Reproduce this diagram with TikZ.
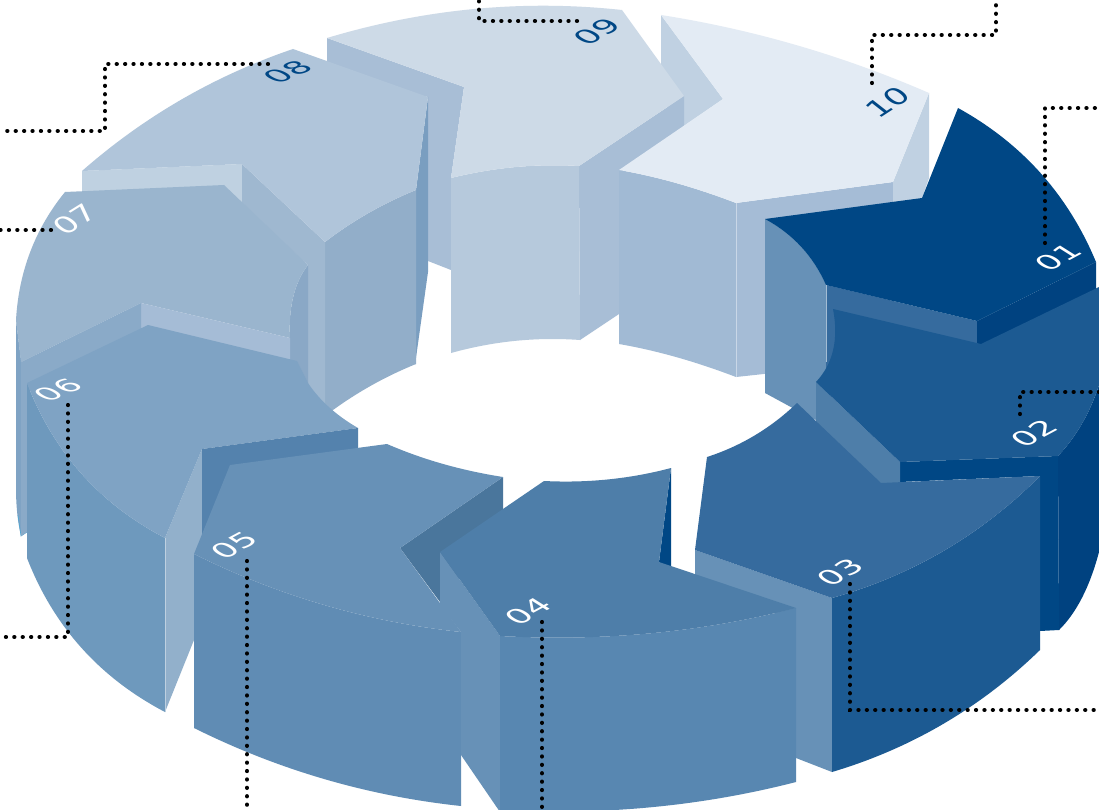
\documentclass[tikz,border=0pt]{standalone}
\usepackage{fontspec}
\setmainfont{DejaVu Sans}
\definecolor{cA}{HTML}{CDDAE7}\definecolor{cB}{HTML}{A8BED6}\definecolor{cC}{HTML}{B6C9DC}
\definecolor{dA}{HTML}{E3EBF4}\definecolor{dB}{HTML}{C0D1E2}\definecolor{dC}{HTML}{A1BAD4}\definecolor{dD}{HTML}{A5BCD6}
\definecolor{eA}{HTML}{004785}\definecolor{eB}{HTML}{004280}\definecolor{eC}{HTML}{6791B7}\definecolor{eD}{HTML}{366B9E}
\definecolor{fA}{HTML}{1C5A92}\definecolor{fB}{HTML}{4E7EA9}
\definecolor{gA}{HTML}{5887B1}\definecolor{hA}{HTML}{608CB4}\definecolor{hB}{HTML}{4A769C}\definecolor{hC}{HTML}{5482AD}
\definecolor{iA}{HTML}{7FA3C4}\definecolor{iB}{HTML}{6E99BD}\definecolor{iC}{HTML}{92B0CB}\definecolor{iD}{HTML}{8AAAC8}
\definecolor{jA}{HTML}{9AB5CE}\definecolor{jB}{HTML}{8AA8C6}
\definecolor{kA}{HTML}{B0C5DA}\definecolor{kB}{HTML}{92AEC9}\definecolor{kC}{HTML}{7A9EC0}\definecolor{kD}{HTML}{9FB8D0}\definecolor{kE}{HTML}{BFD1E1}
\tikzset{
  leader/.style={black,line width=4.2pt,line cap=round,dash pattern=on 0.1pt off 8.3pt},
  numlabel/.style={transform shape,inner sep=0pt,font=\fontsize{26}{26}\selectfont},
  edgeline/.style={line width=.7pt}
}
\newcommand{\lab}[9]{\begin{scope}[shift={(#2,#3)},cm={#4,#5,#6,#7,(0,0)}]\node[numlabel,text=#8] (#1) at (0,0) {#9};\end{scope}}
% smooth arc from the current point (x0,y0), through the bulge given by (cx,cy), to (x1,y1)
\newcommand{\qc}[6]{.. controls ({#1+(#5-#1)/3+#3-(#1+#5)/2},{#2+(#6-#2)/3+#4-(#2+#6)/2}) and ({#5-(#5-#1)/3+#3-(#1+#5)/2},{#6-(#6-#2)/3+#4-(#2+#6)/2}) .. (#5,#6)}
\begin{document}
\begin{tikzpicture}[x=1pt,y=-1pt]
\useasboundingbox (0,0) rectangle (1099,810);
\clip (0,0) rectangle (1099,810);
\fill[white] (0,0) rectangle (1099,810);
% 10 back notch
\fill[dB] (661,15) -- (723,99) -- (684,126) -- (661,100) -- cycle;
% 09
\fill[cB] (327,38) -- (464,87) -- (451,178) -- (451,270) -- (428,261) -- (428,97) -- (327,75) -- cycle;
\fill[cB] (579,166) -- (684,96) -- (684,130) -- (619,175) -- (619,314) -- (580,340) -- cycle;
\fill[cC] (451,178) \qc{451}{178}{515}{165.5}{579}{166} -- (580,340) \qc{580}{340}{515}{339}{451}{353} -- cycle;
\fill[cA] (327,38) \qc{327}{38}{474}{4}{622}{10} -- (684,96) -- (579,166) \qc{579}{166}{515}{165.5}{451}{178} -- (464,87) -- cycle;
% 10
\fill[dD] (736,203) -- (893,182) -- (893,360) -- (736,377) -- cycle;
\fill[dC] (619,170) \qc{619}{170}{676}{182}{736}{203} -- (736,377) \qc{736}{377}{676}{356}{619}{344} -- cycle;
\fill[dB] (929,93) -- (893,182) -- (893,210) -- (922,198) -- (929,178) -- cycle;
\fill[dA] (661,15) \qc{661}{15}{798}{42.5}{929}{93} -- (893,182) -- (736,203) \qc{736}{203}{676}{182}{619}{170} -- (723,99) -- cycle;
\draw[edgeline,dD!60!white] (736,203) -- (736,377);
% 01
\fill[eC] (765,219) \qc{765}{219}{803}{245}{826}{285} -- (826,425) -- (800,412) -- (765,393) -- cycle;
\fill[eD] (826,285) -- (977,321) -- (982,346) -- (842,312) -- (842,380) -- (826,400) -- cycle;
\fill[eB] (977,321) -- (1096,262) -- (1096,292) -- (982,346) -- (977,344) -- cycle;
\fill[eA] (958,108) \qc{958}{108}{1045}{169}{1096}{262} -- (977,321) -- (826,285) \qc{826}{285}{803}{245}{765}{219} -- (922,198) -- cycle;
\draw[edgeline,eC!60!white] (826,285) -- (826,362);
% 02
\fill[eB] (1058,456) \qc{1058}{456}{1083}{425}{1099}{385} -- (1099,552) \qc{1099}{552}{1083}{600}{1059}{630} -- cycle;
\fill[eA] (900,462) -- (1058,456) -- (1059,630) -- (1040,631) -- (1040,476) -- (900,482) -- cycle;
\fill[fB] (816,382) -- (900,462) -- (900,484) -- (881,484) -- (816,425) -- cycle;
\fill[fA] (833,309) -- (981,344) -- (1099,287) -- (1099,385) \qc{1099}{385}{1083}{425}{1058}{456} -- (900,462) -- (816,382) \qc{816}{382}{836}{351.5}{833}{309} -- cycle;
% 03
\fill[eC] (695,550) -- (832,598) -- (832,772) -- (796,758) -- (796,620) -- (695,582) -- cycle;
\fill[fA] (832,598) \qc{832}{598}{947}{555}{1040}{476} -- (1040,650) \qc{1040}{650}{946}{728}{832}{772} -- cycle;
\fill[eD] (707,457) \qc{707}{457}{756}{437}{797}{403} -- (881,483) -- (1040,476) \qc{1040}{476}{947}{555}{832}{598} -- (695,550) -- cycle;
% 08
\fill[kE] (82,171) -- (242,164) -- (242,205) -- (82,195) -- cycle;
\fill[kC] (428,97) -- (416,190) -- (415,365) -- (428,272) -- cycle;
\fill[kB] (325,242) \qc{325}{242}{368}{212}{416}{190} -- (416,364) \qc{416}{364}{368}{386}{325}{416} -- cycle;
\fill[kD] (242,164) -- (325,242) -- (325,416) -- (308,385) -- (308,265) -- (242,205) -- cycle;
\fill[kA] (293,49) -- (428,97) -- (416,190) \qc{416}{190}{368}{212}{325}{242} -- (242,164) -- (82,171) \qc{82}{171}{179.5}{96}{293}{49} -- cycle;
% 06/07 left strip
\fill[iA] (16,320) -- (16,490) \qc{16}{490}{17}{515}{21}{536} -- (27,532) -- (27,380) -- (21,360) -- cycle;
\draw[line width=.6pt,cyan!50!iB] (18,515) -- (21,536) -- (27,532);
% 07
\fill[jB] (308,265) .. controls (296,280) and (288,305) .. (290,338) -- (290,362) -- (298,364) -- (308,385) -- cycle;
\fill[jA] (65,192) -- (224,185) -- (308,265) .. controls (296,280) and (288,305) .. (290,338) -- (141,303) -- (21,362) -- (16,320) \qc{16}{320}{27}{250}{65}{192} -- cycle;
% 06
\fill[dD] (141,303) -- (290,338) -- (290,360) -- (141,330) -- cycle;
\fill[iD] (21,362) -- (141,303) -- (141,335) -- (27,392) -- (27,532) -- (21,536) -- cycle;
\fill[iB] (27,383) \qc{27}{383}{76.5}{478}{165}{538} -- (165,712) \qc{165}{712}{76.5}{652}{27}{558} -- cycle;
\fill[iC] (165,538) -- (202,449) -- (202,538) -- (194,555) -- (194,640) -- (165,712) -- cycle;
\fill[iA] (27,383) -- (148,325) -- (297,361) -- (308,383) \qc{308}{383}{328}{408}{358}{428} -- (202,449) -- (165,538) \qc{165}{538}{76.5}{478}{27}{383} -- cycle;
\draw[edgeline,iC!60!white] (165,538) -- (165,712);
% 05
\fill[hC] (202,449) -- (358,428) -- (358,450) -- (230,467) -- (202,537) -- cycle;
\fill[hA] (194,554) \qc{194}{554}{323}{609}{461}{632} -- (461,806) \qc{461}{806}{323}{783}{194}{728} -- cycle;
\fill[hB] (503,477) -- (503,520) -- (440,602) -- (400,548) -- cycle;
\fill[eC] (230,465) -- (387,444) \qc{387}{444}{442}{465}{503}{477} -- (400,548) -- (461,632) \qc{461}{632}{323}{609}{194}{554} -- cycle;
% 04
\fill[eA] (671,468) -- (671,572) -- (659,562) -- cycle;
\fill[eC] (440,552) -- (500,636) -- (500,812) -- (461,755) -- (461,632) -- (440,605) -- cycle;
\fill[gA] (500,636) \qc{500}{636}{652}{637}{796}{608} -- (796,782) \qc{796}{782}{652}{811}{500}{810} -- cycle;
\fill[fB] (440,552) -- (544,481) \qc{544}{481}{609}{481}{671}{468} -- (659,562) -- (796,608) \qc{796}{608}{652}{637}{500}{636} -- cycle;
% leaders
\coordinate (l1a) at (1045,243); \coordinate (l1b) at (1045,108); \coordinate (l1c) at (1099,108);
\coordinate (l2a) at (1020,414); \coordinate (l2b) at (1020,392); \coordinate (l2c) at (1099,392);
\coordinate (l3a) at (850,584);  \coordinate (l3b) at (850,710);  \coordinate (l3c) at (1099,710);
\coordinate (l4a) at (542,622);  \coordinate (l4b) at (542,810);
\coordinate (l5a) at (247,561);  \coordinate (l5b) at (247,810);
\coordinate (l6a) at (68,405);   \coordinate (l6b) at (68,637);   \coordinate (l6c) at (0,637);
\coordinate (l7a) at (51,230);   \coordinate (l7b) at (0,230);
\coordinate (l8a) at (268,64);   \coordinate (l8b) at (105,64);   \coordinate (l8c) at (105,131); \coordinate (l8d) at (0,131);
\coordinate (l9a) at (577,21);   \coordinate (l9b) at (479,21);   \coordinate (l9c) at (479,0);
\coordinate (l0a) at (872,83);   \coordinate (l0b) at (872,35);   \coordinate (l0c) at (996,35);  \coordinate (l0d) at (996,0);
\draw[leader] (l1a) -- (l1b) -- (l1c);
\draw[leader] (l2a) -- (l2b) -- (l2c);
\draw[leader] (l3a) -- (l3b) -- (l3c);
\draw[leader] (l4a) -- (l4b);
\draw[leader] (l5a) -- (l5b);
\draw[leader] (l6a) -- (l6b) -- (l6c);
\draw[leader] (l7a) -- (l7b);
\draw[leader] (l8a) -- (l8b) -- (l8c) -- (l8d);
\draw[leader] (l9a) -- (l9b) -- (l9c);
\draw[leader] (l0a) -- (l0b) -- (l0c) -- (l0d);
% labels
\lab{n1}{1058}{257}{1.10}{.59}{-.89}{.56}{white}{01}
\lab{n2}{1034}{433}{1.10}{.59}{-.89}{.56}{white}{02}
\lab{n3}{840}{572}{1.10}{.59}{-.89}{.56}{white}{03}
\lab{n4}{528}{611}{1.10}{.59}{-.89}{.56}{white}{04}
\lab{n5}{234}{545}{1.10}{.59}{-.89}{.56}{white}{05}
\lab{n6}{58}{390}{1.17}{.43}{-.91}{.52}{white}{06}
\lab{n7}{75}{219}{1.06}{.66}{-.83}{.65}{white}{07}
\lab{n8}{288}{72}{1.16}{.47}{-.93}{.49}{eA}{08}
\lab{n9}{597}{32}{1.10}{.59}{-.91}{.52}{eA}{09}
\lab{n0}{888}{102}{1.05}{.68}{-.83}{.65}{eA}{10}
\end{tikzpicture}
\end{document}
